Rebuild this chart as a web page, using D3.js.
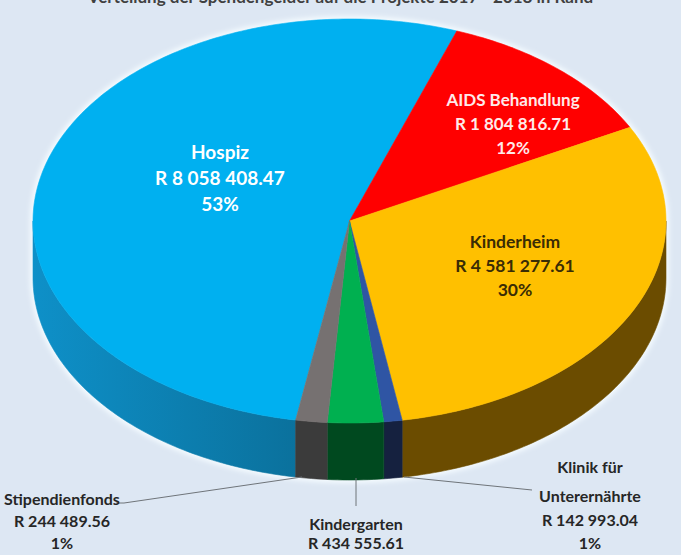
<!DOCTYPE html>
<html>
<head>
<meta charset="utf-8">
<script src="https://cdn.jsdelivr.net/npm/d3@7"></script>
<style>
  body { margin: 0; background: #dde7f3; }
  svg { display: block; }
  text { font-family: Lato, "Open Sans", sans-serif; font-weight: bold; }
</style>
</head>
<body>
<div class="chart"></div>
<script>
const width = 681;
const height = 555;

// data
const categories = ["Hospiz", "AIDS Behandlung", "Kinderheim", "Klinik für Unterernährte", "Kindergarten", "Stipendienfonds"];
const amounts = [8058408.47, 1804816.71, 4581277.61, 142993.04, 434555.61, 244489.56];
const percentLabels = ["53%", "12%", "30%", "1%", "3%", "1%"];

// styles
const topColors = ["#00b0f0", "#ff0000", "#ffc000", "#2f55a4", "#00b050", "#767171"];
const sideColors = [["#0e90c8", "#0a6b94"], ["#a00000", "#a00000"], ["#6d5000", "#6b4c00"],
                    ["#15213f", "#15213f"], ["#00491f", "#00491f"], ["#3b3b3b", "#3b3b3b"]];
const labelColors = ["#ffffff", "#ffeaea", "#3a2c05", "#262626", "#262626", "#262626"];

// layout of the 3d pie
const cx = 349.5, cy = 221, rx = 316.5, ry = 202, depth = 57;
const startDeg = 189.8;

// label layout: [x, y of first line, line heights, font size]
const labelLayout = [
    [220, 152, [26, 26], 19],
    [513, 100, [24, 24], 17],
    [515, 242, [24, 24], 17.5],
    [590, 467, [29, 24, 23], 16],
    [356, 524, [19, 19], 16],
    [62, 499, [22, 22], 16]
];
const leaderLines = {
    3: [[532, 490], [404, 477]],
    4: [[356, 506], [356, 478]],
    5: [[116, 503], [124, 503], [302, 477]]
};

const fmtAmount = v => "R " + d3.format(",.2f")(v).replace(/,/g, " ");
const rad = d => d * Math.PI / 180;

function pt(a, dz = 0) {
    return [cx + rx * Math.sin(a), cy - ry * Math.cos(a) + dz];
}
function arcPoints(a0, a1, dz) {
    const n = Math.max(2, Math.ceil(Math.abs(a1 - a0) * 180 / Math.PI));
    return d3.range(n + 1).map(i => pt(a0 + (a1 - a0) * i / n, dz));
}

const line = d3.line();

const pie = d3.pie()
    .sort(null)
    .value(d => d)
    .startAngle(rad(startDeg))
    .endAngle(rad(startDeg) + 2 * Math.PI);

const arcs = pie(amounts);

const svg = d3.select(".chart").append("svg")
    .attr("width", width)
    .attr("height", height);

svg.append("rect")
    .attr("width", width)
    .attr("height", height)
    .attr("fill", "#dde7f3");

const defs = svg.append("defs");
const glow = defs.append("filter").attr("id", "glow")
    .attr("x", "-10%").attr("y", "-10%").attr("width", "120%").attr("height", "120%");
glow.append("feGaussianBlur").attr("stdDeviation", 2.5);

sideColors.forEach((c, i) => {
    const g = defs.append("linearGradient")
        .attr("id", "side" + i)
        .attr("gradientUnits", "userSpaceOnUse")
        .attr("x1", cx - rx).attr("x2", cx).attr("y1", 0).attr("y2", 0);
    g.append("stop").attr("offset", "0%").attr("stop-color", c[0]);
    g.append("stop").attr("offset", "100%").attr("stop-color", c[1]);
});

// title (cut off at the top edge in the reference)
svg.append("text")
    .attr("x", width / 2)
    .attr("y", 3)
    .attr("text-anchor", "middle")
    .attr("font-size", 17)
    .attr("fill", "#404040")
    .text("Verteilung der Spendengelder auf die Projekte 2017 - 2018 in Rand");

// soft halo round the pie
const silhouette = arcPoints(rad(270), rad(450), 0).concat(arcPoints(rad(90), rad(270), depth));
svg.append("path")
    .attr("d", line(silhouette) + "Z")
    .attr("fill", "#ffffff")
    .attr("stroke", "#f4fbff")
    .attr("stroke-width", 6)
    .attr("filter", "url(#glow)");

// outer walls on the front half
const frontRanges = [[rad(90), rad(270)], [rad(450), rad(630)]];
arcs.forEach((d, i) => {
    frontRanges.forEach(([f0, f1]) => {
        const a0 = Math.max(d.startAngle, f0);
        const a1 = Math.min(d.endAngle, f1);
        if (a1 <= a0) return;
        const pts = arcPoints(a0, a1, 0).concat(arcPoints(a1, a0, depth));
        svg.append("path")
            .attr("d", line(pts) + "Z")
            .attr("fill", `url(#side${i})`)
            .attr("stroke", `url(#side${i})`)
            .attr("stroke-width", 0.6);
    });
});

// top faces
arcs.forEach((d, i) => {
    const pts = [[cx, cy]].concat(arcPoints(d.startAngle, d.endAngle, 0));
    svg.append("path")
        .attr("d", line(pts) + "Z")
        .attr("fill", topColors[i])
        .attr("stroke", topColors[i])
        .attr("stroke-width", 0.6);
});

// leader lines
Object.entries(leaderLines).forEach(([i, pts]) => {
    svg.append("path")
        .attr("d", line(pts))
        .attr("fill", "none")
        .attr("stroke", "#6f7479")
        .attr("stroke-width", 1);
});

// labels
categories.forEach((c, i) => {
    const [x, y, steps, fs] = labelLayout[i];
    const lines = c === "Klinik für Unterernährte" ? ["Klinik für", "Unterernährte"] : [c];
    const all = lines.concat([fmtAmount(amounts[i]), percentLabels[i]]);
    const t = svg.append("text")
        .attr("text-anchor", "middle")
        .attr("font-size", fs)
        .attr("fill", labelColors[i]);
    let yy = y;
    all.forEach((s, k) => {
        if (k > 0) yy += steps[k - 1];
        t.append("tspan")
            .attr("x", x)
            .attr("y", yy)
            .attr("dy", "0.35em")
            .text(s);
    });
});
</script>
</body>
</html>
